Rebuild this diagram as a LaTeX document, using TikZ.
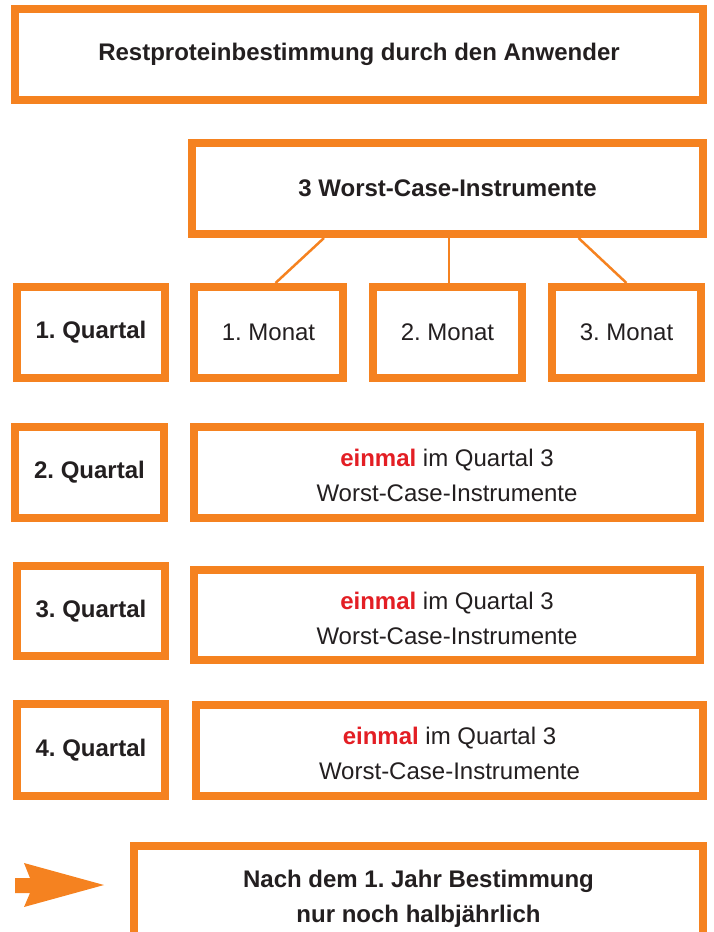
\documentclass[tikz,border=0pt]{standalone}
\usepackage{fontspec}
\setmainfont{Liberation Sans}
\usetikzlibrary{calc}
\definecolor{boxorange}{HTML}{F58220}
\definecolor{txtred}{HTML}{E31E24}
\definecolor{txt}{HTML}{231F20}
\frenchspacing
\newcommand{\topstrut}[1]{\rule{0pt}{#1}}
\begin{document}
\frenchspacing
\begin{tikzpicture}[x=1pt,y=-1pt,
  box/.style={draw=boxorange, line width=8pt, fill=white, inner sep=0pt, align=center,
    text=txt, font=\fontsize{24}{35}\selectfont\frenchspacing},
  bbox/.style={box, font=\fontsize{24}{35}\selectfont\bfseries\frenchspacing},
  conn/.style={draw=boxorange, line width=2.5pt}]
\useasboundingbox (0,0) rectangle (713,932);

\node[bbox, minimum width=688, minimum height=91] (top) at (359,54.5) {Restproteinbestimmung durch den Anwender};
\node[bbox, minimum width=511, minimum height=91] (worst) at (447.5,188.5) {3 Worst-Case-Instrumente};

\node[bbox, minimum width=148, minimum height=91] (q1) at (91,332.5) {1. Quartal};
\node[box, minimum width=149, minimum height=91] (m1) at (268.5,332.5) {1. Monat};
\node[box, minimum width=149, minimum height=91] (m2) at (447.5,332.5) {2. Monat};
\node[box, minimum width=149, minimum height=91] (m3) at (626.5,332.5) {3. Monat};

\node[bbox, minimum width=149, minimum height=91] (q2) at (89.5,472.5) {2. Quartal};
\node[box, minimum width=506, minimum height=91] (r2) at (447,472.5) {\topstrut{23.5pt}{\color{txtred}\bfseries einmal} im Quartal 3\\Worst-Case-Instrumente};

\node[bbox, minimum width=148, minimum height=90] (q3) at (91,611) {3. Quartal};
\node[box, minimum width=506, minimum height=90] (r3) at (447,615) {\topstrut{23.5pt}{\color{txtred}\bfseries einmal} im Quartal 3\\Worst-Case-Instrumente};

\node[bbox, minimum width=148, minimum height=92] (q4) at (91,750) {4. Quartal};
\node[box, minimum width=507, minimum height=91] (r4) at (449.5,750.5) {\topstrut{23.5pt}{\color{txtred}\bfseries einmal} im Quartal 3\\Worst-Case-Instrumente};

\node[bbox, minimum width=569, minimum height=100] (last) at (418.5,896) {\topstrut{22pt}Nach dem 1. Jahr Bestimmung\\nur noch halbjährlich};

\draw[conn] ($(worst.south)+(-123.5,0)$) -- ($(m1.north)+(7,0)$);
\draw[conn] ($(worst.south)+(1.5,0)$) -- ($(m2.north)+(1.5,0)$);
\draw[conn] ($(worst.south)+(131,0)$) -- (m3.north);

\fill[boxorange] (15,878) -- (30,878) -- (24,863) -- (104,885) -- (24,907) -- (30,893) -- (15,893) -- cycle;
\end{tikzpicture}
\end{document}
